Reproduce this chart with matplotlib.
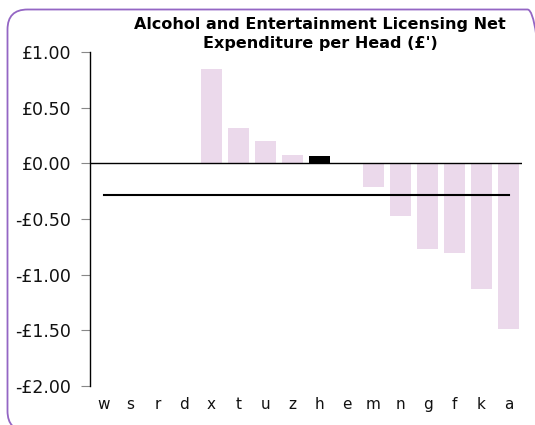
import matplotlib
matplotlib.use("Agg")
import matplotlib.pyplot as plt
from matplotlib.patches import FancyBboxPatch
import numpy as np

categories = ["w", "s", "r", "d", "x", "t", "u", "z", "h", "e", "m", "n", "g", "f", "k", "a"]
values = [0, 0, 0, 0, 0.85, 0.32, 0.20, 0.078, 0.068, 0, -0.21, -0.47, -0.77, -0.81, -1.13, -1.49]
highlight = "h"
average = [-0.28] * len(categories)
yticks = [1.0, 0.5, 0.0, -0.5, -1.0, -1.5, -2.0]
title = "Alcohol and Entertainment Licensing Net\nExpenditure per Head (£')"

W, H = 535, 425
fig = plt.figure(figsize=(W / 100, H / 100), dpi=100)
ax = fig.add_axes([90 / W, 1 - 385.7 / H, 432 / W, (385.7 - 52.3) / H])

x = np.arange(len(categories))
colors = ["black" if c == highlight else "#EBD9EB" for c in categories]
ax.bar(x, values, width=0.78, color=colors, zorder=2)
ax.axhline(0, color="black", lw=1.0, zorder=3)
ax.plot(x, average, color="black", lw=1.5, zorder=4)

ax.set_xlim(-0.5, len(categories) - 0.5)
ax.set_ylim(-2.0, 1.0)
ax.set_yticks(yticks)
ax.set_yticklabels([("-" if v < 0 else "") + "£%.2f" % abs(v) for v in yticks])
ax.set_xticks(x)
ax.set_xticklabels(categories)

for s in ["top", "right", "bottom"]:
    ax.spines[s].set_visible(False)
ax.spines["left"].set_color("black")
ax.spines["left"].set_linewidth(1.0)
ax.tick_params(axis="y", direction="out", length=6.5, width=0.8, color="#888888",
               labelsize=12.5, pad=7, labelcolor="#111111")
ax.tick_params(axis="x", length=0, labelsize=11, pad=8, labelcolor="#111111")

fig.text(320 / W, 1 - 17.5 / H, title, ha="center", va="top", fontsize=11.5,
         fontweight="bold", linespacing=1.3)

border = FancyBboxPatch((7.5, -6), 540, H - 9 + 6 - 0.5,
                        boxstyle="round,pad=0,rounding_size=20",
                        transform=None, fill=False, edgecolor="#9466C4", lw=1.3)
fig.patches.append(border)
border.set_figure(fig)

fig.savefig("out.png", dpi=100)
